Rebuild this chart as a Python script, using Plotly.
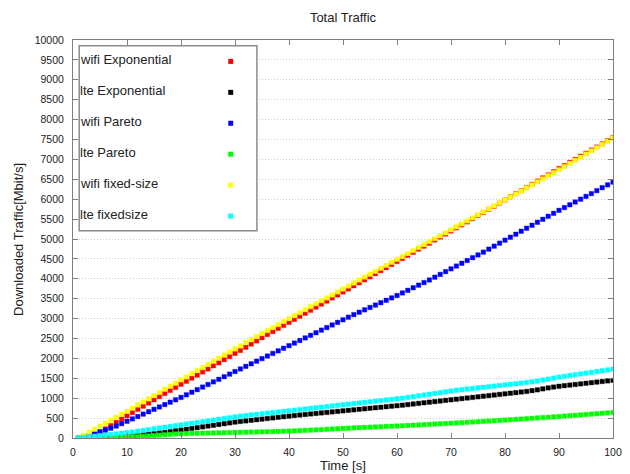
import plotly.graph_objects as go

# Time axis (seconds)
time_s = list(range(1, 101))

wifi_exponential = [
    0, 15, 50, 100, 160, 230, 310, 390, 475, 560,
    640, 720, 800, 880, 960, 1040, 1120, 1195, 1270, 1350,
    1425, 1505, 1580, 1660, 1735, 1815, 1890, 1970, 2045, 2125,
    2200, 2280, 2360, 2440, 2520, 2600, 2675, 2755, 2830, 2905,
    2980, 3060, 3135, 3210, 3290, 3365, 3440, 3520, 3595, 3670,
    3745, 3825, 3900, 3975, 4050, 4130, 4205, 4280, 4360, 4435,
    4510, 4590, 4665, 4745, 4820, 4895, 4975, 5050, 5125, 5200,
    5280, 5355, 5430, 5510, 5590, 5665, 5745, 5820, 5900, 5980,
    6060, 6140, 6215, 6295, 6375, 6455, 6535, 6610, 6690, 6770,
    6845, 6925, 7000, 7080, 7155, 7235, 7310, 7390, 7470, 7550,
]

lte_exponential = [
    0, 0, 0, 5, 10, 15, 20, 25, 30, 40,
    50, 65, 80, 95, 110, 125, 140, 160, 180, 200,
    220, 240, 260, 280, 300, 320, 340, 360, 380, 400,
    415, 430, 445, 460, 475, 490, 505, 520, 535, 550,
    565, 578, 591, 604, 617, 630, 643, 656, 669, 682,
    695, 708, 721, 734, 747, 760, 773, 786, 799, 812,
    825, 840, 855, 870, 885, 900, 915, 930, 945, 960,
    975, 990, 1005, 1020, 1035, 1050, 1065, 1080, 1095, 1110,
    1125, 1140, 1155, 1170, 1190, 1210, 1235, 1260, 1280, 1300,
    1315, 1330, 1345, 1360, 1375, 1390, 1405, 1420, 1435, 1450,
]

wifi_pareto = [
    0, 30, 70, 110, 150, 195, 245, 300, 360, 420,
    480, 540, 600, 660, 720, 780, 840, 900, 960, 1020,
    1085, 1150, 1215, 1280, 1345, 1410, 1475, 1540, 1605, 1670,
    1735, 1800, 1865, 1930, 1995, 2060, 2125, 2190, 2255, 2320,
    2385, 2450, 2515, 2580, 2645, 2710, 2775, 2840, 2905, 2970,
    3035, 3100, 3160, 3220, 3280, 3340, 3400, 3460, 3520, 3580,
    3645, 3710, 3775, 3840, 3905, 3970, 4040, 4110, 4180, 4250,
    4320, 4390, 4460, 4530, 4600, 4670, 4745, 4820, 4895, 4970,
    5045, 5120, 5195, 5270, 5345, 5420, 5495, 5570, 5645, 5720,
    5790, 5860, 5930, 6000, 6070, 6140, 6215, 6290, 6360, 6430,
]

lte_pareto = [
    0, 0, 0, 0, 0, 0, 5, 10, 15, 20,
    25, 30, 40, 50, 60, 70, 80, 90, 100, 105,
    110, 115, 118, 121, 124, 127, 130, 133, 136, 140,
    143, 146, 149, 152, 155, 158, 162, 166, 170, 175,
    180, 186, 192, 198, 204, 210, 218, 226, 234, 242,
    248, 254, 260, 266, 272, 278, 284, 290, 296, 302,
    308, 315, 322, 329, 336, 343, 350, 357, 364, 371,
    378, 386, 394, 402, 410, 418, 426, 434, 442, 450,
    459, 468, 477, 486, 495, 504, 513, 522, 531, 540,
    550, 560, 570, 580, 590, 600, 610, 620, 630, 640,
]

wifi_fixed_size = [
    0, 70, 145, 220, 300, 375, 450, 525, 600, 670,
    750, 830, 905, 985, 1065, 1145, 1225, 1300, 1380, 1460,
    1535, 1615, 1695, 1770, 1850, 1930, 2005, 2085, 2160, 2240,
    2315, 2395, 2470, 2550, 2625, 2700, 2775, 2850, 2925, 3000,
    3075, 3150, 3225, 3300, 3375, 3450, 3520, 3595, 3670, 3745,
    3820, 3895, 3970, 4045, 4115, 4190, 4265, 4340, 4415, 4490,
    4560, 4635, 4710, 4785, 4860, 4935, 5010, 5080, 5155, 5230,
    5305, 5380, 5455, 5530, 5605, 5680, 5755, 5830, 5905, 5980,
    6055, 6130, 6205, 6285, 6360, 6435, 6510, 6590, 6665, 6740,
    6820, 6900, 6975, 7055, 7135, 7215, 7295, 7375, 7455, 7540,
]

lte_fixedsize = [
    0, 15, 30, 45, 60, 75, 90, 105, 120, 135,
    150, 170, 190, 210, 230, 250, 270, 290, 310, 330,
    350, 370, 390, 410, 430, 450, 470, 490, 510, 530,
    550, 565, 580, 595, 610, 625, 640, 655, 670, 685,
    700, 715, 730, 745, 760, 775, 790, 805, 820, 835,
    850, 865, 880, 895, 910, 925, 940, 955, 970, 985,
    1000, 1020, 1040, 1060, 1080, 1100, 1120, 1140, 1160, 1180,
    1200, 1215, 1230, 1245, 1260, 1275, 1290, 1305, 1320, 1335,
    1350, 1365, 1380, 1395, 1410, 1430, 1455, 1480, 1505, 1530,
    1550, 1570, 1590, 1610, 1630, 1650, 1670, 1690, 1710, 1730,
]

series_names = ["wifi Exponential", "lte Exponential", "wifi Pareto",
                "lte Pareto", "wifi fixed-size", "lte fixedsize"]
series_values = [wifi_exponential, lte_exponential, wifi_pareto,
                 lte_pareto, wifi_fixed_size, lte_fixedsize]
series_colors = ["#ff0000", "#000000", "#0000ff", "#00ff00", "#ffff00", "#00ffff"]
series_halo = ["rgba(255,0,0,0.35)", "rgba(0,0,0,0.35)", "rgba(0,0,255,0.35)",
               "rgba(0,255,0,0.35)", "rgba(255,255,0,0.35)", "rgba(0,255,255,0.35)"]

FONT = "Liberation Sans, Arial, sans-serif"
TEXT = "#222222"
AXIS = "#7f7f7f"

fig = go.Figure()
for name, vals, col, halo in zip(series_names, series_values, series_colors, series_halo):
    fig.add_trace(go.Scatter(
        x=time_s, y=vals, name=name, mode="markers",
        marker=dict(symbol="square", size=4.5, color=col, line=dict(width=1, color=halo)),
        showlegend=False,
    ))

# Hand-built key box: labels on the left, swatches on the right
box_x0, box_x1, box_y0, box_y1 = 0.0115, 0.3406, 0.5209, 0.9857
shapes = [dict(type="rect", xref="paper", yref="paper", x0=box_x0, x1=box_x1,
               y0=box_y0, y1=box_y1, line=dict(color="#8c8c8c", width=1.5),
               fillcolor="white", layer="above")]
annotations = []
row_top = 0.9502
row_step = 0.0777
sw_x = 0.2921
sw_dx = 2.5 / 549
sw_dy = 2.5 / 398
for i, (name, col) in enumerate(zip(series_names, series_colors)):
    yc = row_top - i * row_step
    annotations.append(dict(text=name, xref="paper", yref="paper", x=0.009, y=yc,
                            xanchor="left", yanchor="middle", showarrow=False,
                            font=dict(family=FONT, size=13, color=TEXT)))
    ys = yc - 0.004
    shapes.append(dict(type="rect", xref="paper", yref="paper",
                       x0=sw_x - sw_dx, x1=sw_x + sw_dx, y0=ys - sw_dy, y1=ys + sw_dy,
                       fillcolor=col, line=dict(width=0), layer="above"))

annotations.append(dict(text="Time [s]", xref="paper", yref="paper", x=0.5, y=-0.068,
                        xanchor="center", yanchor="middle", showarrow=False,
                        font=dict(family=FONT, size=13, color=TEXT)))
annotations.append(dict(text="Downloaded Traffic[Mbit/s]", xref="paper", yref="paper",
                        x=-0.102, y=0.5, xanchor="center", yanchor="middle",
                        textangle=-90, showarrow=False,
                        font=dict(family=FONT, size=13, color=TEXT)))

fig.update_layout(
    width=630, height=474,
    margin=dict(l=73, r=8, t=40, b=36),
    paper_bgcolor="white", plot_bgcolor="white",
    title=dict(text="Total Traffic", x=0.5, xref="paper", xanchor="center",
               y=1 - 17 / 474, yref="container", yanchor="middle",
               font=dict(family=FONT, size=13, color=TEXT)),
    font=dict(family=FONT, size=10, color=TEXT),
    shapes=shapes, annotations=annotations,
)
fig.update_xaxes(range=[0, 100], dtick=10, tick0=0, showgrid=False, zeroline=False,
                 showline=True, linecolor=AXIS, linewidth=1, mirror="ticks",
                 ticks="inside", ticklen=5, tickcolor=AXIS, ticklabeloverflow="allow",
                 ticklabelstandoff=4, tickfont=dict(family=FONT, size=10.5, color=TEXT))
fig.update_yaxes(range=[0, 10000], dtick=500, tick0=0, tickformat="d", showgrid=True,
                 gridcolor="#cfcfcf", griddash="1px,2px", gridwidth=1, zeroline=False,
                 showline=True, linecolor=AXIS, linewidth=1, mirror="ticks",
                 ticks="inside", ticklen=5, tickcolor=AXIS,
                 ticklabelstandoff=6, tickfont=dict(family=FONT, size=10.5, color=TEXT))

fig.write_html("out.html")
